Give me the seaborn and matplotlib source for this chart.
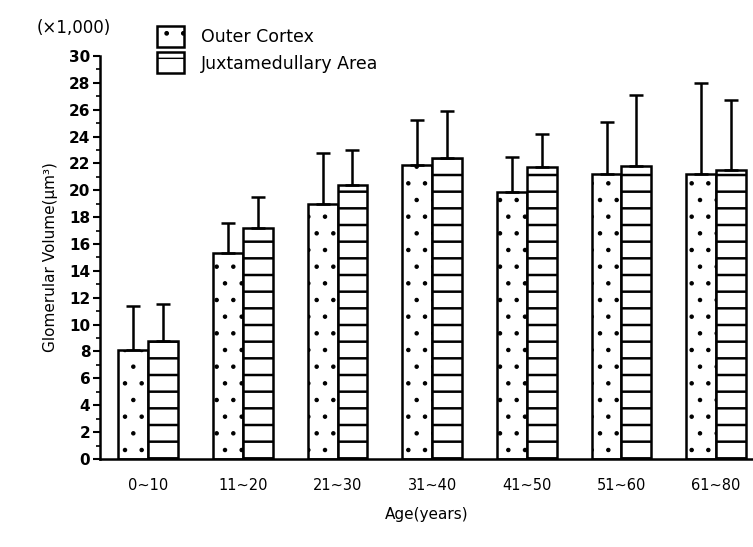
import matplotlib
matplotlib.use("Agg")
import matplotlib.pyplot as plt
import matplotlib.patches as mpatches
from matplotlib.ticker import MultipleLocator
import numpy as np
import pandas as pd
import seaborn as sns

ages = ["0∼10", "11∼20", "21∼30", "31∼40", "41∼50", "51∼60", "61∼80"]
regions = ["Outer Cortex", "Juxtamedullary Area"]
outer_mean = [8.1, 15.3, 19.0, 21.9, 19.9, 21.2, 21.2]
outer_sd = [3.3, 2.3, 3.8, 3.3, 2.6, 3.9, 6.8]
juxta_mean = [8.8, 17.2, 20.4, 22.4, 21.7, 21.8, 21.5]
juxta_sd = [2.7, 2.3, 2.6, 3.5, 2.5, 5.3, 5.2]
yticks = list(range(0, 31, 2))

df = pd.DataFrame({
    "age": ages * 2,
    "region": [regions[0]] * len(ages) + [regions[1]] * len(ages),
    "value": outer_mean + juxta_mean,
})
sds = {regions[0]: outer_sd, regions[1]: juxta_sd}
hatches = {regions[0]: ".", regions[1]: "-"}
hatch_lw = {regions[0]: 0.8, regions[1]: 1.8}

sns.set_theme(style="ticks")
plt.rcParams["font.family"] = ["DejaVu Sans"]
plt.rcParams["hatch.color"] = "black"
for k in ["text.color", "axes.labelcolor", "xtick.color", "ytick.color", "axes.edgecolor"]:
    plt.rcParams[k] = "black"

fig = plt.figure(figsize=(7.53, 5.47), dpi=100)
ax = fig.add_axes([0.1328, 0.161, 0.8672, 0.7366])

sns.barplot(data=df, x="age", y="value", hue="region", hue_order=regions,
            order=ages, palette=["white", "white"], width=0.63,
            edgecolor="black", linewidth=1.8, errorbar=None, legend=False,
            saturation=1, ax=ax)

def style_hatch(p, reg):
    p.set_hatch(hatches[reg])
    if hasattr(p, "set_hatch_linewidth"):
        p.set_hatch_linewidth(hatch_lw[reg])

for cont, reg in zip(ax.containers, regions):
    xs, tops = [], []
    for bar in cont:
        style_hatch(bar, reg)
        xs.append(bar.get_x() + bar.get_width() / 2)
        tops.append(bar.get_height())
    ax.errorbar(xs, tops, yerr=[np.zeros(len(xs)), sds[reg]], fmt="none",
                ecolor="black", elinewidth=1.8, capsize=5, capthick=1.8, zorder=1)

ax.set_xlim(-0.51, 6.39)
ax.set_ylim(0, 30)
ax.set_yticks(yticks)
ax.yaxis.set_minor_locator(MultipleLocator(1))
ax.tick_params(axis="y", which="major", length=5, width=1.5, labelsize=11, pad=2)
ax.tick_params(axis="y", which="minor", length=3, width=1.2)
ax.tick_params(axis="x", length=0, labelsize=10.5, pad=14)
for lab in ax.get_yticklabels():
    lab.set_fontweight("bold")
sns.despine(ax=ax, top=True, right=True)
ax.spines["left"].set_linewidth(1.8)
ax.spines["bottom"].set_linewidth(1.8)

ax.set_xlabel("Age(years)", fontsize=11, labelpad=10)
ax.set_ylabel("Glomerular Volume(μm³)", fontsize=11, labelpad=8)

fig.text(0.048, 0.948, "(×1,000)", fontsize=12, va="center")

handles = []
for r in regions:
    h = mpatches.Patch(facecolor="white", edgecolor="black", linewidth=1.8,
                       hatch=hatches[r], label=r)
    if hasattr(h, "set_hatch_linewidth"):
        h.set_hatch_linewidth(hatch_lw[r])
    handles.append(h)
fig.legend(handles=handles, loc="upper left", bbox_to_anchor=(0.193, 0.975),
           frameon=False, fontsize=12.5, handlelength=1.5, handleheight=1.5,
           handletextpad=1.0, labelspacing=0.3, borderpad=0.2)

fig.savefig("out.png", dpi=100)
